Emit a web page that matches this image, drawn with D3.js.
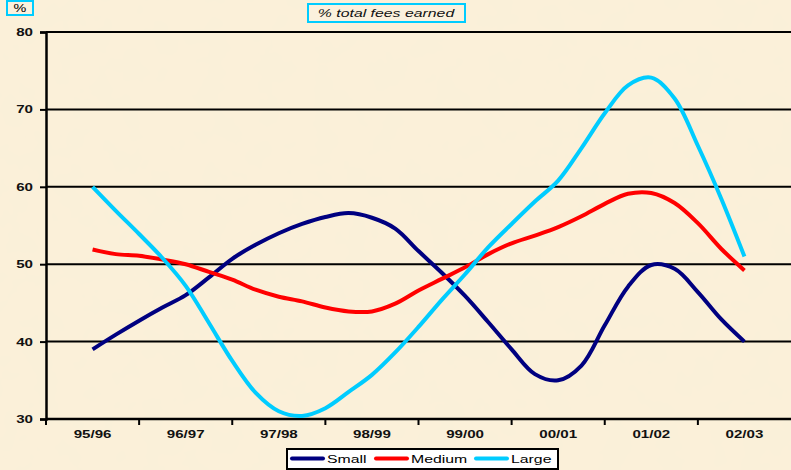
<!DOCTYPE html>
<html>
<head>
<meta charset="utf-8">
<script src="https://cdn.jsdelivr.net/npm/d3@7"></script>
<style>
  html, body { margin: 0; padding: 0; background: #FAEFD8; }
  svg { display: block; }
  text { font-family: Arial, "Liberation Sans", sans-serif; }
</style>
</head>
<body>
<svg id="chart" width="791" height="470"></svg>
<script>
// Financial years shown on the category axis
const years = ["95/96", "96/97", "97/98", "98/99", "99/00", "00/01", "01/02", "02/03"];
const yTicks = [30, 40, 50, 60, 70, 80];

// Quarterly sample positions, measured in years from 95/96
const steps = d3.range(0, 7.001, 0.25);

// Share of total fees earned, per firm size (%)
const small = [39.0, 40.9, 42.7, 44.4, 46.0, 48.3, 50.7, 52.5, 54.0, 55.2, 56.1, 56.6, 56.0,
               54.6, 51.7, 48.9, 45.9, 42.5, 39.0, 35.8, 35.0, 36.9, 42.1, 47.1, 49.9, 49.4,
               46.4, 42.9, 40.0];
const medium = [51.9, 51.3, 51.1, 50.6, 50.0, 49.0, 48.0, 46.7, 45.8, 45.2, 44.4, 43.9, 43.9,
                44.9, 46.6, 48.1, 49.6, 51.3, 52.7, 53.7, 54.8, 56.2, 57.8, 59.1, 59.2, 57.9,
                55.3, 52.0, 49.2];
const large = [60.0, 56.9, 53.9, 50.8, 47.2, 42.4, 37.5, 33.4, 31.0, 30.4, 31.4, 33.5, 35.7,
               38.6, 41.9, 45.4, 48.7, 52.2, 55.2, 58.1, 60.8, 65.0, 69.5, 73.1, 74.1, 71.4,
               65.3, 58.5, 51.0];

const seriesNames = ["Small", "Medium", "Large"];
const seriesColors = ["#000080", "#FF0000", "#00CCFF"];
const seriesValues = [small, medium, large];

(function draw() {
  const svg = d3.select("#chart");
  const W = 791, H = 470;
  const mLeft = 46, mRight = 791, mTop = 32, mBottom = 419;
  const SX = 1.44; // wide, horizontally stretched lettering

  // places a text node at (x, y) with the wide lettering
  function label(parent, x, y, str, opts) {
    const o = Object.assign({ size: 11, weight: "normal", style: "normal", anchor: "start", fill: "#000" }, opts || {});
    return parent.append("text")
      .attr("transform", `translate(${x},${y}) scale(${SX},1)`)
      .attr("text-anchor", o.anchor)
      .attr("font-size", o.size)
      .attr("font-weight", o.weight)
      .attr("font-style", o.style)
      .attr("fill", o.fill)
      .text(str);
  }

  // parchment background with a soft mottled texture
  const defs = svg.append("defs");
  const f = defs.append("filter").attr("id", "paper").attr("x", 0).attr("y", 0).attr("width", 1).attr("height", 1);
  f.append("feTurbulence").attr("type", "fractalNoise").attr("baseFrequency", 0.035).attr("numOctaves", 3).attr("seed", 4).attr("result", "noise");
  f.append("feColorMatrix").attr("in", "noise").attr("type", "matrix")
    .attr("values", "0 0 0 0 0.93  0 0 0 0 0.86  0 0 0 0 0.70  0 0 0 0.22 0");
  svg.append("rect").attr("width", W).attr("height", H).attr("fill", "#FBF0D9");
  svg.append("rect").attr("width", W).attr("height", H).attr("filter", "url(#paper)");

  const band = d3.scaleBand().domain(years).range([mLeft, mRight]).paddingInner(0).paddingOuter(0);
  const x = d3.scaleLinear().domain([0, 7]).range([mLeft + band.bandwidth() / 2, mLeft + band.bandwidth() * 7.5]);
  const y = d3.scaleLinear().domain([30, 80]).range([mBottom, mTop]);

  // horizontal gridlines
  svg.append("g").selectAll("line").data(yTicks.filter(d => d > 30)).join("line")
    .attr("x1", mLeft).attr("x2", mRight)
    .attr("y1", d => y(d)).attr("y2", d => y(d))
    .attr("stroke", "#000").attr("stroke-width", 2);

  // y axis: line and ticks from d3.axisLeft, labels drawn wide
  const yAxis = svg.append("g").attr("transform", `translate(${mLeft},0)`)
    .call(d3.axisLeft(y).tickValues(yTicks).tickSize(6).tickFormat(""));
  yAxis.select(".domain").attr("stroke", "#000").attr("stroke-width", 2.5);
  yAxis.selectAll(".tick line").attr("stroke", "#000").attr("stroke-width", 2);
  const yLab = svg.append("g");
  yTicks.forEach(t => label(yLab, 33, y(t) + 4, d3.format("d")(t), { anchor: "end", weight: "bold", size: 10.5, fill: "#111" }));

  // x axis: ticks sit on category boundaries, labels centred in each band
  const xAxis = svg.append("g").attr("transform", `translate(0,${mBottom})`);
  xAxis.append("line").attr("x1", mLeft).attr("x2", mRight).attr("stroke", "#000").attr("stroke-width", 2.5);
  xAxis.selectAll("line.tk").data(years).join("line").attr("class", "tk")
    .attr("x1", d => band(d)).attr("x2", d => band(d))
    .attr("y1", 0).attr("y2", 6).attr("stroke", "#000").attr("stroke-width", 2);
  years.forEach(d => label(xAxis, band(d) + band.bandwidth() / 2, 19, d, { anchor: "middle", weight: "bold", size: 10.5, fill: "#111" }));

  // series lines
  const line = d3.line().x(d => x(d[0])).y(d => y(d[1])).curve(d3.curveCatmullRom.alpha(0.5));
  seriesValues.forEach((vals, i) => {
    svg.append("path")
      .datum(steps.map((s, k) => [s, vals[k]]))
      .attr("d", line)
      .attr("fill", "none")
      .attr("stroke", seriesColors[i])
      .attr("stroke-width", 4)
      .attr("stroke-linejoin", "round");
  });

  // unit box
  svg.append("rect").attr("x", 7).attr("y", 1).attr("width", 26).attr("height", 14)
    .attr("fill", "#FBF1DD").attr("stroke", "#00CCFF").attr("stroke-width", 2);
  label(svg, 20, 12, "%", { anchor: "middle", size: 10 });

  // caption box
  svg.append("rect").attr("x", 308).attr("y", 4).attr("width", 157).attr("height", 18)
    .attr("fill", "#FBF1DD").attr("stroke", "#00CCFF").attr("stroke-width", 2);
  label(svg, 386, 17, "% total fees earned", { anchor: "middle", size: 11, style: "italic", fill: "#111" });

  // legend
  const lg = svg.append("g");
  lg.append("rect").attr("x", 287).attr("y", 449).attr("width", 271).attr("height", 20)
    .attr("fill", "#FFFFFF").attr("stroke", "#000").attr("stroke-width", 2);
  const legendX = [292, 376, 476];
  seriesNames.forEach((name, i) => {
    lg.append("line").attr("x1", legendX[i]).attr("x2", legendX[i] + 31)
      .attr("y1", 458.5).attr("y2", 458.5)
      .attr("stroke", seriesColors[i]).attr("stroke-width", 4).attr("stroke-linecap", "round");
    label(lg, legendX[i] + 35, 463, name, { size: 11, fill: "#000" });
  });
})();
</script>
</body>
</html>
